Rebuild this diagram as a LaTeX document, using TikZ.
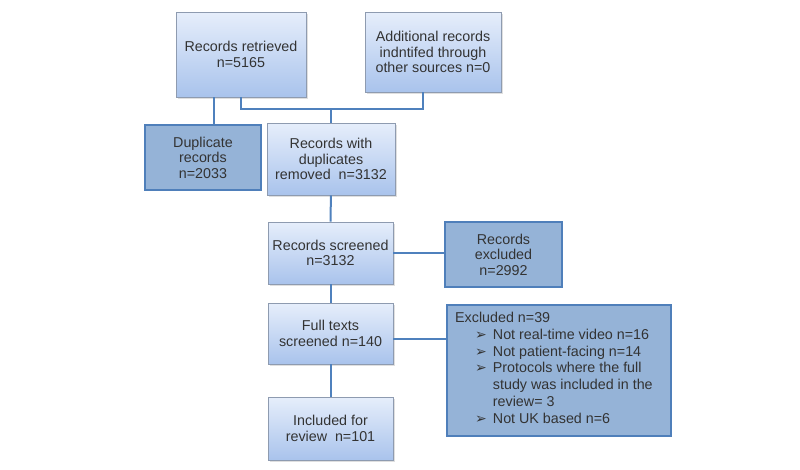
\documentclass[tikz,border=0pt]{standalone}
\usepackage{fontspec}
\setmainfont{Liberation Sans}
\newfontfamily\symfont{DejaVu Sans}
\usetikzlibrary{shadows}
\definecolor{boxtop}{HTML}{E6EEFB}
\definecolor{boxbot}{HTML}{A9C3EC}
\definecolor{boxline}{HTML}{8E9BB0}
\definecolor{darkfill}{HTML}{95B3D7}
\definecolor{darkline}{HTML}{4F7FBA}
\definecolor{linkcol}{HTML}{4F81BD}
\definecolor{txt}{HTML}{333333}
\newcommand{\bul}{{\symfont\fontsize{14}{14}\selectfont ➢}}

\begin{document}
\begin{tikzpicture}[x=1pt, y=-1pt,
		font=\fontsize{14.3}{15.5}\selectfont, text=txt,
		lightbox/.style={draw=boxline, line width=0.8pt, top color=boxtop, bottom color=boxbot,
			drop shadow={shadow xshift=1.5pt, shadow yshift=-1.5pt, opacity=0.25},
			align=center, inner sep=2pt},
		darkbox/.style={draw=darkline, line width=1.5pt, fill=darkfill, align=center, inner sep=2pt},
		link/.style={draw=linkcol, line width=2pt}]
		\useasboundingbox (0,0) rectangle (800,469);

		\node[lightbox, minimum width=130pt, minimum height=85pt] (retrieved) at (241,54.5) {Records retrieved\\n=5165};
		\node[lightbox, minimum width=136pt, minimum height=80pt] (additional) at (433,52) {Additional records\\indntifed through\\other sources n=0};
		\node[darkbox, minimum width=116pt, minimum height=65pt] (duplicate) at (203,157.5) {Duplicate\\records\\n=2033};
		\node[lightbox, minimum width=128pt, minimum height=72pt] (removed) at (331,159) {Records with\\duplicates\\removed\ \ n=3132};
		\node[lightbox, minimum width=125pt, minimum height=62pt] (screened) at (330.5,253) {Records screened\\n=3132};
		\node[darkbox, minimum width=117pt, minimum height=65pt] (recexcl) at (503.5,254.5) {Records\\excluded\\n=2992};
		\node[lightbox, minimum width=125pt, minimum height=61pt] (fulltext) at (330.5,333.5) {Full texts\\screened n=140};
		\node[darkbox, minimum width=224pt, minimum height=131pt, anchor=north west, inner sep=0pt] (ftexcl) at (446,304) {};
		\node[anchor=north west, inner sep=0pt, font=\fontsize{14.3}{16.7}\selectfont] (ftlist) at (455,311) {%
			\begin{tabular}{@{\hspace{20pt}}l@{\hspace{6pt}}l@{}}
				\multicolumn{2}{@{}l}{Excluded n=39}\\
				\bul & Not real-time video n=16\\
				\bul & Not patient-facing n=14\\
				\bul & Protocols where the full\\
				 & study was included in the\\
				 & review= 3\\
				\bul & Not UK based n=6
			\end{tabular}};
		\node[lightbox, minimum width=125pt, minimum height=63pt] (included) at (330.5,428.5) {Included for\\review\ \ n=101};

		\coordinate (join) at (331,109);
		\draw[link] ([xshift=-27pt]retrieved.south) -- ([xshift=-27pt]retrieved.south |- duplicate.north);
		\draw[link] (retrieved.south) |- (join) -| ([xshift=-10pt]additional.south);
		\draw[link] (join) -- (removed.north);
		\draw[link] (removed) -- (screened);
		\draw[link] (screened.east) -- (screened.east -| recexcl.west);
		\draw[link] (screened) -- (fulltext);
		\draw[link] ([yshift=-5pt]fulltext.east) -- ([yshift=-5pt]fulltext.east -| ftexcl.west);
		\draw[link] (fulltext) -- (included);
	\end{tikzpicture}
\end{document}
